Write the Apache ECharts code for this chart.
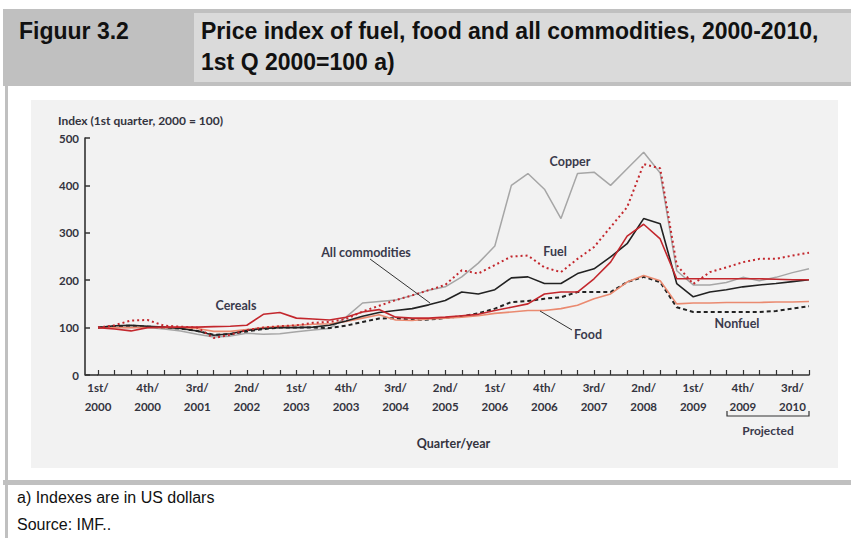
<!DOCTYPE html>
<html>
<head>
<meta charset="utf-8">
<title>Figuur 3.2</title>
<script src="https://cdn.jsdelivr.net/npm/echarts@6/dist/echarts.min.js"></script>
<style>
  html, body { margin: 0; padding: 0; background: #fff; }
  body { width: 851px; height: 538px; position: relative; overflow: hidden; font-family: "Liberation Sans", Arial, sans-serif; color: #111; }
  .band { position: absolute; left: 3px; top: 9px; width: 848px; height: 77px; background: #c0c0c0; }
  .title-cell { position: absolute; left: 194px; top: 13px; width: 657px; height: 69px; background: #dadada; }
  .hd { position: absolute; top: 16px; font-weight: bold; font-size: 23px; line-height: 31px; white-space: nowrap; }
  .left-rule { position: absolute; left: 5px; top: 86px; width: 3px; height: 452px; background: #c0c0c0; }
  .sep { position: absolute; left: 3px; top: 480px; width: 848px; height: 5px; background: #c0c0c0; }
  .foot { position: absolute; left: 17px; top: 484px; font-size: 16px; line-height: 27px; white-space: nowrap; }
  #lineChart { position: absolute; left: 31px; top: 100px; width: 807px; height: 368px; background: #f2f2f2; }
</style>
</head>
<body>
<div class="band"></div>
<div class="title-cell"></div>
<div class="hd" style="left:19px">Figuur 3.2</div>
<div class="hd" style="left:201px">Price index of fuel, food and all commodities, 2000-2010,<br>1st Q 2000=100 a)</div>
<div class="left-rule"></div>
<div class="sep"></div>
<div class="foot">a) Indexes are in US dollars<br>Source: IMF..</div>
<div id="lineChart"></div>

<script>
// kwartalen 1st/2000 .. 4th/2010
var years = [2000, 2001, 2002, 2003, 2004, 2005, 2006, 2007, 2008, 2009, 2010];
var quarterNames = ['1st', '2nd', '3rd', '4th'];
var yTicks = [0, 100, 200, 300, 400, 500];

// waarden (index, 1e kwartaal 2000 = 100)
var copper = [100, 100, 101, 100, 97, 93, 86, 80, 82, 88, 86, 87, 91, 95, 98, 122,
  152, 155, 158, 168, 179, 186, 207, 236, 272, 400, 425, 392, 330, 425, 428, 400,
  435, 470, 426, 220, 190, 190, 195, 206, 199, 206, 216, 224];
var fuel = [100, 105, 115, 116, 104, 102, 100, 78, 85, 95, 100, 103, 105, 110, 112, 118,
  134, 146, 158, 168, 179, 190, 221, 214, 232, 250, 252, 227, 217, 245, 270, 312,
  354, 445, 436, 232, 192, 217, 227, 238, 245, 245, 252, 258];
var allCommodities = [100, 104, 105, 103, 101, 98, 93, 84, 87, 94, 98, 100, 100, 101, 105, 114,
  124, 132, 136, 140, 148, 157, 175, 171, 180, 205, 207, 193, 193, 214, 224, 249,
  277, 330, 319, 193, 165, 175, 180, 186, 190, 193, 197, 201];
var cereals = [100, 97, 93, 100, 101, 101, 101, 102, 103, 105, 128, 132, 120, 118, 116, 122,
  133, 138, 122, 120, 120, 122, 125, 128, 136, 143, 150, 171, 175, 175, 203, 238,
  293, 318, 287, 203, 203, 203, 203, 203, 203, 202, 201, 201];
var food = [100, 100, 100, 101, 100, 100, 98, 92, 92, 96, 100, 103, 105, 107, 108, 113,
  120, 127, 116, 115, 118, 120, 122, 125, 130, 133, 136, 136, 140, 147, 161, 171,
  196, 210, 199, 150, 152, 152, 153, 153, 153, 154, 154, 155];
var nonfuel = [100, 103, 104, 102, 100, 98, 93, 85, 86, 92, 97, 100, 100, 100, 99, 104,
  112, 119, 120, 116, 117, 120, 124, 130, 140, 154, 156, 161, 164, 175, 175, 175,
  196, 207, 196, 143, 133, 133, 133, 133, 133, 135, 140, 145];

var categories = [];
years.forEach(function (y) {
  quarterNames.forEach(function (q) { categories.push(q + '/\n' + y); });
});

var labelFont = 'Lato, "Noto Sans", sans-serif';
var textColor = '#34343e';

function lineSeries(name, data, color, width, type, z) {
  return {
    name: name,
    type: 'line',
    data: data,
    symbol: 'none',
    smooth: false,
    z: z,
    lineStyle: { color: color, width: width, type: type || 'solid' }
  };
}

function label(text, x, y, size) {
  return {
    type: 'text', x: x, y: y, z: 100,
    style: {
      text: text, fill: '#3a3a4c', font: 'bold ' + (size || 12.5) + 'px ' + labelFont,
      align: 'center', verticalAlign: 'middle'
    }
  };
}

var myChart = echarts.init(document.getElementById('lineChart'), null, { renderer: 'svg' });

var option = {
  animation: false,
  backgroundColor: '#f2f2f2',
  // eerste kwartaal ligt een stukje rechts van de y-as
  grid: { left: 67, right: 29, top: 38, height: 237 },
  xAxis: {
    type: 'category',
    data: categories,
    boundaryGap: false,
    name: 'Quarter/year',
    nameLocation: 'middle',
    nameGap: 62,
    nameTextStyle: { color: textColor, fontSize: 12.5, fontWeight: 'bold', fontFamily: labelFont },
    axisLine: { lineStyle: { color: '#333', width: 1.6 } },
    axisTick: { inside: true, length: 5, interval: 0, lineStyle: { color: '#333', width: 1.2 } },
    axisLabel: { interval: 2, margin: 3, lineHeight: 19, fontSize: 11.5, fontWeight: 'bold', color: textColor, fontFamily: labelFont },
    splitLine: { show: false }
  },
  yAxis: {
    type: 'value',
    offset: 13,
    min: yTicks[0],
    max: yTicks[yTicks.length - 1],
    interval: yTicks[1] - yTicks[0],
    axisLine: { show: true, lineStyle: { color: '#333', width: 1.6 } },
    axisTick: { show: true, inside: true, length: 5, lineStyle: { color: '#333', width: 1.5 } },
    axisLabel: { margin: 6, fontSize: 11.5, fontWeight: 'bold', color: textColor, fontFamily: labelFont },
    splitLine: { show: false }
  },
  series: [
    lineSeries('Copper', copper, '#a6a6a6', 1.5, 'solid', 2),
    lineSeries('Nonfuel', nonfuel, '#222', 2, [4, 3], 3),
    lineSeries('Food', food, '#ea8a70', 1.6, 'solid', 4),
    lineSeries('All commodities', allCommodities, '#222', 1.6, 'solid', 5),
    lineSeries('Cereals', cereals, '#c3272d', 1.6, 'solid', 6),
    lineSeries('Fuel', fuel, '#c3272d', 2, [2, 3], 7)
  ],
  graphic: [
    {
      type: 'text', x: 27, y: 20,
      style: { text: 'Index (1st quarter, 2000 = 100)', fill: textColor, font: 'bold 12px ' + labelFont, align: 'left', verticalAlign: 'middle' }
    },
    // x-as doorgetrokken tot aan de y-as
    { type: 'line', z: 50, shape: { x1: 54, y1: 275, x2: 67, y2: 275 }, style: { stroke: '#333', lineWidth: 1.6 } },
    label('Copper', 539, 61),
    label('Fuel', 524, 151),
    label('All commodities', 335, 152),
    label('Cereals', 205, 205),
    label('Food', 557, 234),
    label('Nonfuel', 706, 223),
    label('Projected', 737, 330, 12),
    // aanwijslijnen
    { type: 'line', z: 100, shape: { x1: 339, y1: 159, x2: 399, y2: 203 }, style: { stroke: '#333', lineWidth: 1 } },
    { type: 'line', z: 100, shape: { x1: 509, y1: 211, x2: 541, y2: 230 }, style: { stroke: '#333', lineWidth: 1 } },
    // haak onder de prognose
    {
      type: 'polyline', z: 100,
      shape: { points: [[696, 311], [696, 316], [778, 316], [778, 311]] },
      style: { stroke: '#333', lineWidth: 1.2, fill: null }
    }
  ]
};

myChart.setOption(option);
</script>
</body>
</html>
